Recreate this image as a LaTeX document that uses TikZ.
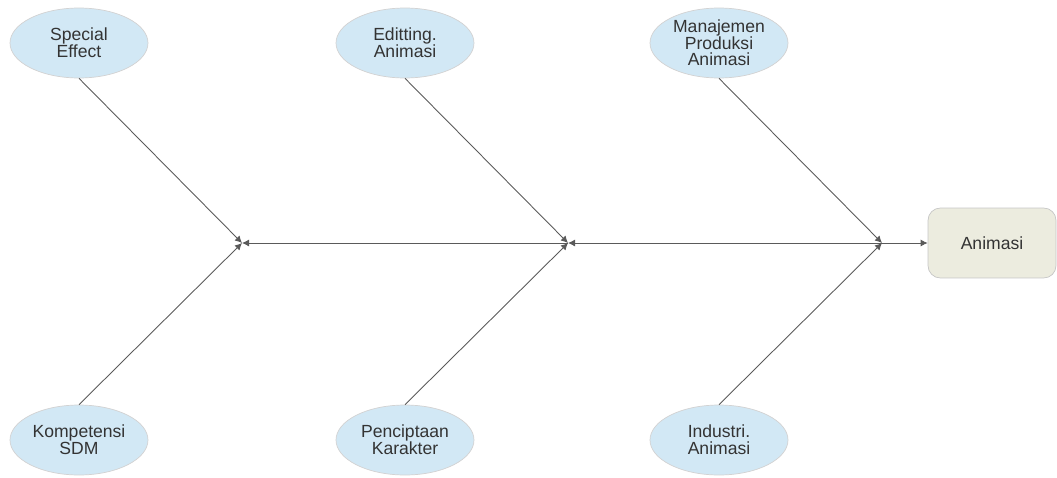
\documentclass[tikz,border=0pt]{standalone}
\usepackage{fontspec}
\setmainfont{Liberation Sans}
\usetikzlibrary{shapes.geometric,arrows.meta}
\definecolor{causefill}{HTML}{D2E8F5}
\definecolor{effectfill}{HTML}{ECECDF}
\definecolor{boneline}{HTML}{5A5A5A}
\tikzset{
  cause/.style={ellipse, draw=gray!35, fill=causefill, minimum width=2.76cm,
    minimum height=1.4cm, inner sep=0pt, align=center,
    font=\fontsize{10}{9.5}\selectfont, text=black!80},
  effect/.style={rectangle, rounded corners=7pt, draw=gray!45, fill=effectfill,
    minimum width=2.56cm, minimum height=1.4cm, font=\fontsize{10}{12}\selectfont,
    text=black!80},
  bone/.style={draw=boneline, line width=0.5pt, -{Latex[length=4pt,width=4pt]}}
}
\begin{document}
\begin{tikzpicture}[x=0.02cm,y=-0.02cm]
  \useasboundingbox (0,0) rectangle (1057,477);
  \node[cause] (sfx) at (79,43) {Special\\Effect};
  \node[cause] (edit) at (405,43) {Editting.\\Animasi};
  \node[cause] (manaj) at (719,43) {Manajemen\\Produksi\\Animasi};
  \node[cause] (sdm) at (79,440) {Kompetensi\\SDM};
  \node[cause] (karakter) at (405,440) {Penciptaan\\Karakter};
  \node[cause] (industri) at (719,440) {Industri.\\Animasi};
  \node[effect] (anim) at (992,243) {Animasi};
  \coordinate (j1) at (242,243);
  \coordinate (j2) at (568,243);
  \coordinate (j3) at (882,243);
  \begin{scope}[bone]
    \draw (j3) -- (anim);
    \draw (j3) -- (j2);
    \draw (j2) -- (j1);
    \draw (sfx.south) -- (j1);
    \draw (sdm.north) -- (j1);
    \draw (edit.south) -- (j2);
    \draw (karakter.north) -- (j2);
    \draw (manaj.south) -- (j3);
    \draw (industri.north) -- (j3);
  \end{scope}
\end{tikzpicture}
\end{document}
